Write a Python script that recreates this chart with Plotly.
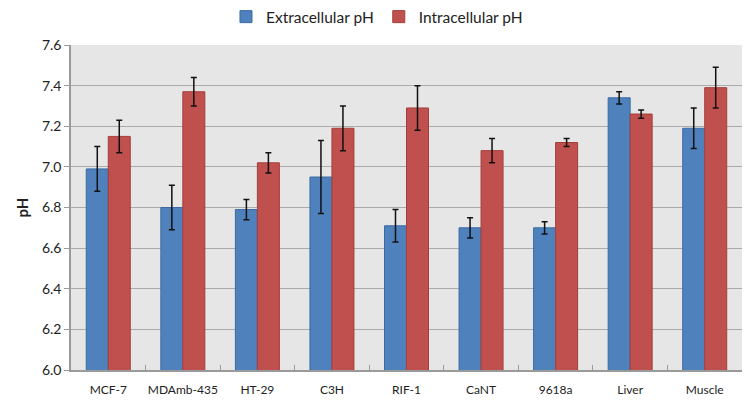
import plotly.graph_objects as go

categories = ["MCF-7", "MDAmb-435", "HT-29", "C3H", "RIF-1", "CaNT", "9618a", "Liver", "Muscle"]
extra_ph = [6.99, 6.80, 6.79, 6.95, 6.71, 6.70, 6.70, 7.34, 7.19]
extra_err = [0.11, 0.11, 0.05, 0.18, 0.08, 0.05, 0.03, 0.03, 0.10]
intra_ph = [7.15, 7.37, 7.02, 7.19, 7.29, 7.08, 7.12, 7.26, 7.39]
intra_err = [0.08, 0.07, 0.05, 0.11, 0.11, 0.06, 0.02, 0.02, 0.10]
y_ticks = [6.0, 6.2, 6.4, 6.6, 6.8, 7.0, 7.2, 7.4, 7.6]

font_family = "Lato, Open Sans, Liberation Sans, sans-serif"

fig = go.Figure()
fig.add_trace(go.Bar(
    name="Extracellular pH", x=categories, y=extra_ph,
    marker=dict(color="#4F81BD", line=dict(color="#3A6BA5", width=1)),
    error_y=dict(type="data", array=extra_err, color="#111111", thickness=1.5, width=3),
))
fig.add_trace(go.Bar(
    name="Intracellular pH", x=categories, y=intra_ph,
    marker=dict(color="#C0504D", line=dict(color="#A33E3B", width=1)),
    error_y=dict(type="data", array=intra_err, color="#111111", thickness=1.5, width=3),
))

fig.update_layout(
    width=744, height=408,
    margin=dict(l=71, r=2, t=45, b=38, autoexpand=False),
    barmode="group", bargap=0.41, bargroupgap=0,
    plot_bgcolor="#E6E6E6", paper_bgcolor="white",
    font=dict(family=font_family, size=13, color="#222222"),
    legend=dict(orientation="h", x=0.456, xanchor="center", y=1.086, yanchor="middle",
                font=dict(size=15.5), traceorder="normal", itemwidth=30),
    showlegend=True,
)
fig.update_xaxes(
    type="category", showgrid=False, showline=True, linecolor="#9A9A9A", linewidth=1.5,
    ticks="inside", tickson="boundaries", ticklen=5, tickcolor="#9A9A9A",
    tickfont=dict(size=12), tickangle=0, automargin=False, ticklabelstandoff=8,
)
fig.update_yaxes(
    range=[6.0, 7.6], tickvals=y_ticks, tickformat=".1f",
    showgrid=True, gridcolor="#ABABAB", gridwidth=1.2,
    showline=True, linecolor="#9A9A9A", linewidth=1.5,
    ticks="outside", ticklen=5, tickcolor="#9A9A9A",
    tickfont=dict(size=14), automargin=False,
    title=dict(text="<b>pH</b>", font=dict(size=15), standoff=10),
)

fig.write_html("out.html", config={"displayModeBar": False},
               post_script="document.body.style.margin='0';")
